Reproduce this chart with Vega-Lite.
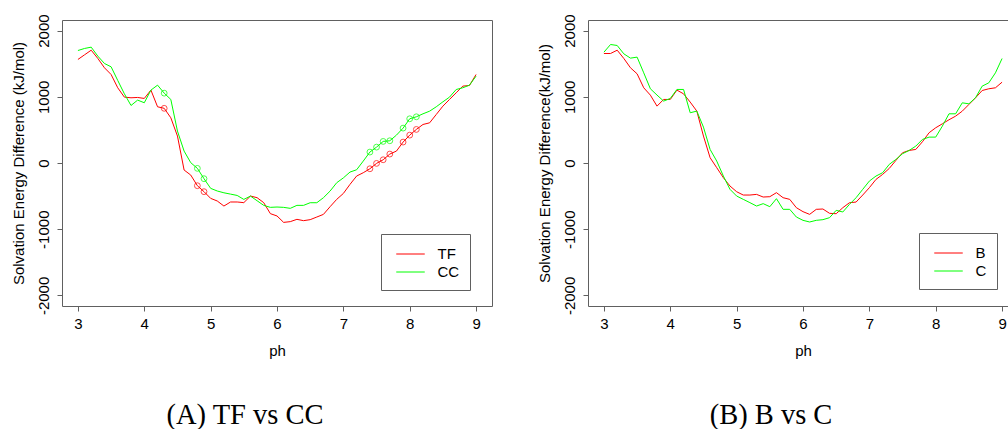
{
  "$schema": "https://vega.github.io/schema/vega-lite/v6.json",
  "background": "white",
  "padding": {"left": 10, "top": 13, "right": 0, "bottom": 0},
  "bounds": "flush",
  "spacing": 96,
  "config": {
    "font": "Liberation Sans",
    "view": {"stroke": "#606060", "strokeWidth": 1},
    "axis": {
      "domain": false,
      "grid": false,
      "ticks": true,
      "tickSize": 5,
      "tickColor": "#606060",
      "labelFont": "Liberation Sans",
      "labelFontSize": 15,
      "labelColor": "#000000",
      "titleFont": "Liberation Sans",
      "titleFontSize": 15,
      "titleFontWeight": "normal",
      "titleColor": "#000000"
    },
    "axisX": {"labelPadding": 5, "titlePadding": 12},
    "axisY": {"labelAngle": -90, "labelAlign": "center", "labelBaseline": "alphabetic", "labelPadding": 9, "titlePadding": 10, "labelExpr": "toString(datum.value)"},
    "legend": {
      "orient": "none",
      "strokeColor": "#606060",
      "fillColor": "#ffffff",
      "padding": 10,
      "symbolType": "M-1.5,0H1.5",
      "symbolSize": 361,
      "symbolStrokeWidth": 1,
      "symbolOffset": 9.5,
      "labelFont": "Liberation Sans",
      "labelFontSize": 15,
      "labelColor": "#000000",
      "labelOffset": 17,
      "rowPadding": 0,
      "title": null
    },
    "title": {
      "orient": "bottom",
      "font": "Liberation Serif",
      "fontSize": 28.5,
      "fontWeight": "normal",
      "color": "#000000",
      "anchor": "middle",
      "dx": -32,
      "offset": 43
    }
  },
  "datasets": {
    "left": [
      {"ph": 3.0, "TF": 1564, "CC": 1699},
      {"ph": 3.1, "TF": 1634, "CC": 1730},
      {"ph": 3.2, "TF": 1704, "CC": 1750},
      {"ph": 3.3, "TF": 1579, "CC": 1614},
      {"ph": 3.4, "TF": 1438, "CC": 1503},
      {"ph": 3.5, "TF": 1337, "CC": 1453},
      {"ph": 3.6, "TF": 1136, "CC": 1247},
      {"ph": 3.7, "TF": 995, "CC": 1045},
      {"ph": 3.8, "TF": 985, "CC": 869},
      {"ph": 3.9, "TF": 990, "CC": 950},
      {"ph": 4.0, "TF": 975, "CC": 910},
      {"ph": 4.1, "TF": 1101, "CC": 1101},
      {"ph": 4.2, "TF": 849, "CC": 1176},
      {"ph": 4.3, "TF": 826, "CC": 1055},
      {"ph": 4.4, "TF": 683, "CC": 960},
      {"ph": 4.5, "TF": 407, "CC": 482},
      {"ph": 4.6, "TF": -106, "CC": 180},
      {"ph": 4.7, "TF": -182, "CC": 5},
      {"ph": 4.8, "TF": -343, "CC": -81},
      {"ph": 4.9, "TF": -433, "CC": -237},
      {"ph": 5.0, "TF": -534, "CC": -383},
      {"ph": 5.1, "TF": -574, "CC": -423},
      {"ph": 5.2, "TF": -650, "CC": -450},
      {"ph": 5.3, "TF": -589, "CC": -470},
      {"ph": 5.4, "TF": -589, "CC": -490},
      {"ph": 5.5, "TF": -599, "CC": -550},
      {"ph": 5.6, "TF": -499, "CC": -500},
      {"ph": 5.7, "TF": -524, "CC": -570},
      {"ph": 5.8, "TF": -599, "CC": -640},
      {"ph": 5.9, "TF": -765, "CC": -670},
      {"ph": 6.0, "TF": -800, "CC": -665},
      {"ph": 6.1, "TF": -897, "CC": -670},
      {"ph": 6.2, "TF": -886, "CC": -685},
      {"ph": 6.3, "TF": -851, "CC": -640},
      {"ph": 6.4, "TF": -871, "CC": -640},
      {"ph": 6.5, "TF": -856, "CC": -600},
      {"ph": 6.6, "TF": -816, "CC": -600},
      {"ph": 6.7, "TF": -776, "CC": -524},
      {"ph": 6.8, "TF": -660, "CC": -424},
      {"ph": 6.9, "TF": -549, "CC": -298},
      {"ph": 7.0, "TF": -460, "CC": -225},
      {"ph": 7.1, "TF": -323, "CC": -137},
      {"ph": 7.2, "TF": -197, "CC": -102},
      {"ph": 7.3, "TF": -147, "CC": 29},
      {"ph": 7.4, "TF": -87, "CC": 165},
      {"ph": 7.5, "TF": -6, "CC": 240},
      {"ph": 7.6, "TF": 49, "CC": 326},
      {"ph": 7.7, "TF": 135, "CC": 336},
      {"ph": 7.8, "TF": 180, "CC": 421},
      {"ph": 7.9, "TF": 316, "CC": 527},
      {"ph": 8.0, "TF": 421, "CC": 668},
      {"ph": 8.1, "TF": 507, "CC": 698},
      {"ph": 8.2, "TF": 582, "CC": 743},
      {"ph": 8.3, "TF": 607, "CC": 783},
      {"ph": 8.4, "TF": 733, "CC": 849},
      {"ph": 8.5, "TF": 859, "CC": 924},
      {"ph": 8.6, "TF": 960, "CC": 995},
      {"ph": 8.7, "TF": 1060, "CC": 1110},
      {"ph": 8.8, "TF": 1161, "CC": 1136},
      {"ph": 8.9, "TF": 1171, "CC": 1176},
      {"ph": 9.0, "TF": 1337, "CC": 1312}
    ],
    "right": [
      {"ph": 3.0, "B": 1654, "C": 1674},
      {"ph": 3.1, "B": 1654, "C": 1790},
      {"ph": 3.2, "B": 1704, "C": 1775},
      {"ph": 3.3, "B": 1579, "C": 1649},
      {"ph": 3.4, "B": 1438, "C": 1584},
      {"ph": 3.5, "B": 1347, "C": 1599},
      {"ph": 3.6, "B": 1136, "C": 1362},
      {"ph": 3.7, "B": 1025, "C": 1121},
      {"ph": 3.8, "B": 859, "C": 1026},
      {"ph": 3.9, "B": 960, "C": 935},
      {"ph": 4.0, "B": 960, "C": 975},
      {"ph": 4.1, "B": 1101, "C": 1111},
      {"ph": 4.2, "B": 1045, "C": 1111},
      {"ph": 4.3, "B": 920, "C": 759},
      {"ph": 4.4, "B": 784, "C": 784},
      {"ph": 4.5, "B": 407, "C": 542},
      {"ph": 4.6, "B": 80, "C": 205},
      {"ph": 4.7, "B": -71, "C": 29},
      {"ph": 4.8, "B": -222, "C": -197},
      {"ph": 4.9, "B": -348, "C": -398},
      {"ph": 5.0, "B": -434, "C": -499},
      {"ph": 5.1, "B": -484, "C": -549},
      {"ph": 5.2, "B": -484, "C": -599},
      {"ph": 5.3, "B": -474, "C": -650},
      {"ph": 5.4, "B": -514, "C": -614},
      {"ph": 5.5, "B": -509, "C": -660},
      {"ph": 5.6, "B": -448, "C": -539},
      {"ph": 5.7, "B": -524, "C": -700},
      {"ph": 5.8, "B": -549, "C": -700},
      {"ph": 5.9, "B": -675, "C": -816},
      {"ph": 6.0, "B": -735, "C": -866},
      {"ph": 6.1, "B": -776, "C": -891},
      {"ph": 6.2, "B": -700, "C": -866},
      {"ph": 6.3, "B": -695, "C": -856},
      {"ph": 6.4, "B": -760, "C": -826},
      {"ph": 6.5, "B": -766, "C": -715},
      {"ph": 6.6, "B": -675, "C": -740},
      {"ph": 6.7, "B": -600, "C": -625},
      {"ph": 6.8, "B": -590, "C": -524},
      {"ph": 6.9, "B": -484, "C": -398},
      {"ph": 7.0, "B": -373, "C": -273},
      {"ph": 7.1, "B": -248, "C": -197},
      {"ph": 7.2, "B": -172, "C": -147},
      {"ph": 7.3, "B": -82, "C": -21},
      {"ph": 7.4, "B": 39, "C": 54},
      {"ph": 7.5, "B": 155, "C": 140},
      {"ph": 7.6, "B": 190, "C": 190},
      {"ph": 7.7, "B": 205, "C": 255},
      {"ph": 7.8, "B": 321, "C": 356},
      {"ph": 7.9, "B": 457, "C": 391},
      {"ph": 8.0, "B": 532, "C": 391},
      {"ph": 8.1, "B": 592, "C": 557},
      {"ph": 8.2, "B": 653, "C": 743},
      {"ph": 8.3, "B": 708, "C": 743},
      {"ph": 8.4, "B": 783, "C": 909},
      {"ph": 8.5, "B": 884, "C": 894},
      {"ph": 8.6, "B": 985, "C": 985},
      {"ph": 8.7, "B": 1095, "C": 1161},
      {"ph": 8.8, "B": 1121, "C": 1211},
      {"ph": 8.9, "B": 1136, "C": 1362},
      {"ph": 9.0, "B": 1221, "C": 1578}
    ]
  },
  "hconcat": [
    {
      "width": 430,
      "height": 286,
      "title": {"text": "(A) TF vs CC"},
      "data": {"name": "left"},
      "transform": [{"fold": ["TF", "CC"], "as": ["series", "value"]}],
      "encoding": {
        "x": {"field": "ph", "type": "quantitative", "scale": {"domain": [2.76, 9.24], "nice": false, "zero": false}, "axis": {"values": [3, 4, 5, 6, 7, 8, 9], "title": "ph"}},
        "y": {"field": "value", "type": "quantitative", "scale": {"domain": [-2160, 2160], "nice": false, "zero": false}, "axis": {"values": [-2000, -1000, 0, 1000, 2000], "title": "Solvation Energy Difference (kJ/mol)"}}
      },
      "layer": [
        {
          "mark": {"type": "line", "strokeWidth": 1, "interpolate": "linear"},
          "encoding": {
            "color": {"field": "series", "type": "nominal", "scale": {"domain": ["TF", "CC"], "range": ["#ff0000", "#00ff00"]}, "legend": {"legendX": 319, "legendY": 214}}
          }
        },
        {
          "transform": [{"filter": {"field": "ph", "oneOf": [4.3, 4.8, 4.9, 7.4, 7.5, 7.6, 7.7, 7.9, 8.0, 8.1]}}],
          "mark": {"type": "point", "shape": "circle", "filled": false, "size": 34, "strokeWidth": 1},
          "encoding": {
            "stroke": {"field": "series", "type": "nominal", "scale": {"domain": ["TF", "CC"], "range": ["#ff0000", "#00ff00"]}, "legend": null}
          }
        }
      ]
    },
    {
      "width": 430,
      "height": 286,
      "title": {"text": "(B) B vs C"},
      "data": {"name": "right"},
      "transform": [{"fold": ["B", "C"], "as": ["series", "value"]}],
      "encoding": {
        "x": {"field": "ph", "type": "quantitative", "scale": {"domain": [2.76, 9.24], "nice": false, "zero": false}, "axis": {"values": [3, 4, 5, 6, 7, 8, 9], "title": "ph"}},
        "y": {"field": "value", "type": "quantitative", "scale": {"domain": [-2160, 2160], "nice": false, "zero": false}, "axis": {"values": [-2000, -1000, 0, 1000, 2000], "title": "Solvation Energy Difference(kJ/mol)"}}
      },
      "layer": [
        {
          "mark": {"type": "line", "strokeWidth": 1, "interpolate": "linear"},
          "encoding": {
            "color": {"field": "series", "type": "nominal", "scale": {"domain": ["B", "C"], "range": ["#ff0000", "#00ff00"]}, "legend": {"legendX": 331, "legendY": 213}}
          }
        }
      ]
    }
  ],
  "resolve": {"scale": {"color": "independent", "x": "independent", "y": "independent"}}
}
